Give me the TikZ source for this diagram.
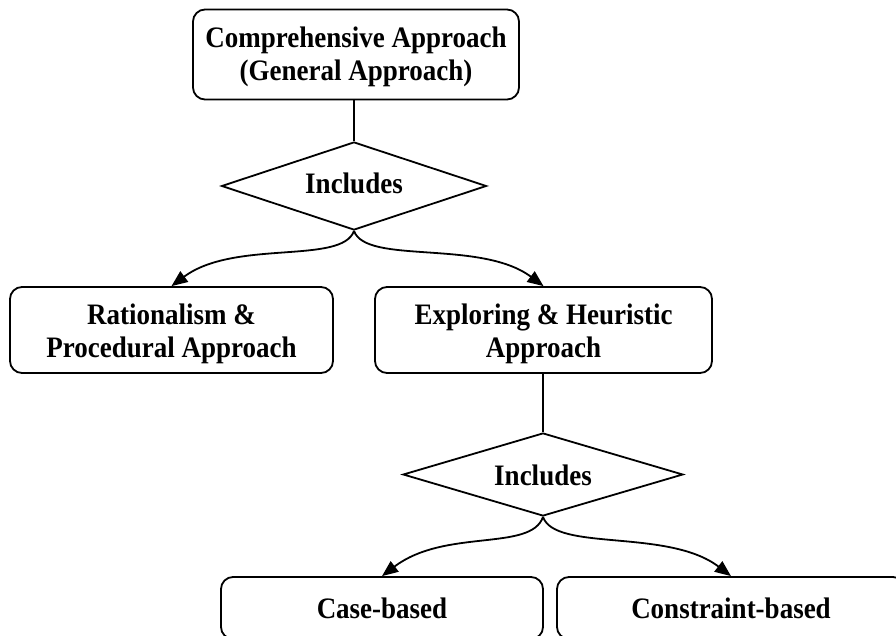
\documentclass[tikz,border=0pt]{standalone}
\usepackage{graphicx}
\usepackage{fontspec}
\setmainfont{Liberation Serif}
\usetikzlibrary{shapes.geometric,arrows.meta}
% slightly tall lettering
\newcommand{\tl}[1]{\scalebox{1}[1.1]{#1}}
% centred lines, set a little below the middle of their box
\newcommand{\blines}[2][4pt]{\raisebox{-#1}[\height][\depth]{\begin{tabular}{@{}c@{}}#2\end{tabular}}}
\begin{document}
\begin{tikzpicture}[x=1pt,y=-1pt,
  every node/.style={font=\bfseries\fontsize{27}{33}\selectfont},
  box/.style={draw, line width=1.8pt, rounded corners=12pt, inner sep=0pt},
  choice/.style={draw, diamond, line width=1.8pt, inner sep=0pt},
  link/.style={line width=1.8pt},
  flow/.style={line width=1.8pt, -{Triangle[length=16pt,width=13pt]}}]
\useasboundingbox (0,0) rectangle (896,636);

% approaches
\node[box, minimum width=326pt, minimum height=90pt] (gen) at (356,54.5)
  {\blines[3pt]{\tl{Comprehensive Approach}\\\tl{(General Approach)}}};
\node[choice, minimum width=265pt, minimum height=88pt] (inc1) at (354,186) {};
\node (inc1t) at (354,183.5) {\tl{Includes}};
\node[box, minimum width=323pt, minimum height=86pt] (rat) at (171.5,330)
  {\blines{\tl{Rationalism \&}\\\tl{Procedural Approach}}};
\node[box, minimum width=337pt, minimum height=86pt] (exp) at (543.5,330)
  {\blines{\tl{Exploring \& Heuristic}\\\tl{Approach}}};
\node[choice, minimum width=280pt, minimum height=83pt] (inc2) at (543,474.5) {};
\node (inc2t) at (543,475) {\tl{Includes}};
\node[box, minimum width=322pt, minimum height=62pt] (cas) at (382,608) {\tl{Case-based}};
\node[box, minimum width=348pt, minimum height=62pt] (con) at (731,608) {\tl{Constraint-based}};

% connectors
\draw[link] (gen.south -| inc1.north) -- (inc1.north);
\draw[flow] (inc1.south) .. controls +(-12,34) and +(63,-47) .. (rat.north);
\draw[flow] (inc1.south) .. controls +(12,34) and +(-63,-47) .. (exp.north);
\draw[link] (exp.south -| inc2.north) -- (inc2.north);
\draw[flow] (inc2.south) .. controls +(-12,35) and +(63,-48) .. (cas.north);
\draw[flow] (inc2.south) .. controls +(12,35) and +(-63,-48) .. (con.north);
\end{tikzpicture}
\end{document}
